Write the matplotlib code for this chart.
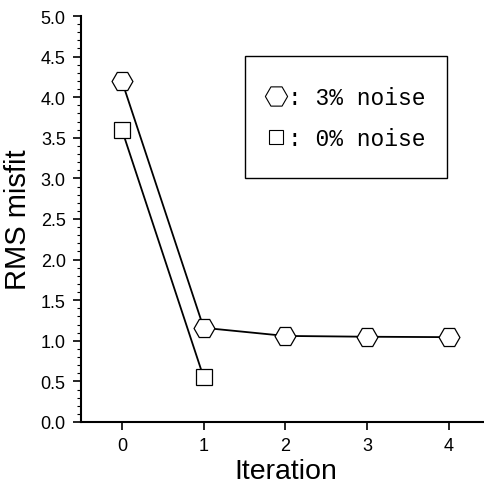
import matplotlib
matplotlib.use("Agg")
import matplotlib.pyplot as plt
from matplotlib.ticker import MultipleLocator, FormatStrFormatter
from matplotlib.lines import Line2D
from matplotlib.patches import Rectangle

iters_noise = [0, 1, 2, 3, 4]
rms_noise = [4.20, 1.16, 1.06, 1.05, 1.045]
iters_clean = [0, 1]
rms_clean = [3.60, 0.55]
xticks = [0, 1, 2, 3, 4]
legend_labels = [': 3% noise', ': 0% noise']

plt.rcParams['font.family'] = ['Liberation Sans', 'DejaVu Sans']

W = 485
fig = plt.figure(figsize=(4.85, 4.85), dpi=100)
ax_l, ax_b, ax_t = 81, 423, 17
ax = fig.add_axes([ax_l/W, 1-ax_b/W, 1-ax_l/W + 0.01, (ax_b-ax_t)/W])
AW, AH = W - ax_l + 0.01*W, ax_b - ax_t

def axfrac(px, py):
    return ((px-ax_l)/AW, (ax_b-py)/AH)

ax.plot(iters_noise, rms_noise, color='black', lw=1.3, marker='H', ms=15,
        mfc='white', mec='black', mew=0.9, zorder=3)
ax.plot(iters_clean, rms_clean, color='black', lw=1.3, marker='s', ms=11,
        mfc='white', mec='black', mew=0.9, zorder=3)

ax.set_xlim(-0.5, 4.5)
ax.set_ylim(0, 5.0)
ax.set_xticks(xticks)
ax.yaxis.set_major_locator(MultipleLocator(0.5))
ax.yaxis.set_minor_locator(MultipleLocator(0.1))
ax.yaxis.set_major_formatter(FormatStrFormatter('%.1f'))
ax.spines['top'].set_visible(False)
ax.spines['right'].set_visible(False)
ax.spines['left'].set_linewidth(1.5)
ax.spines['bottom'].set_linewidth(1.5)
ax.tick_params(axis='both', which='major', direction='out', length=6, width=1.2,
               labelsize=13, pad=5)
ax.tick_params(axis='y', which='minor', direction='out', length=3, width=0.8)
ax.set_xlabel('Iteration', fontsize=20.5, labelpad=3)
ax.set_ylabel('RMS misfit', fontsize=21, labelpad=6)

handles = [
    Line2D([], [], ls='none', marker='H', ms=16, mfc='white', mec='black', mew=0.8),
    Line2D([], [], ls='none', marker='s', ms=10.5, mfc='white', mec='black', mew=0.8),
]
leg = ax.legend(handles, legend_labels,
                loc='center left', bbox_to_anchor=axfrac(265, 119),
                prop={'family': 'Liberation Mono', 'size': 16.5},
                frameon=False, handlelength=1.0, handletextpad=0.0,
                labelspacing=0.81, borderpad=0, borderaxespad=0)

x0, y1 = axfrac(245, 57)
x1, y0 = axfrac(447, 179)
ax.add_patch(Rectangle((x0, y0), x1-x0, y1-y0, transform=ax.transAxes,
                       fill=False, edgecolor='black', lw=1.0, zorder=4))

fig.savefig('out.png', dpi=100)
